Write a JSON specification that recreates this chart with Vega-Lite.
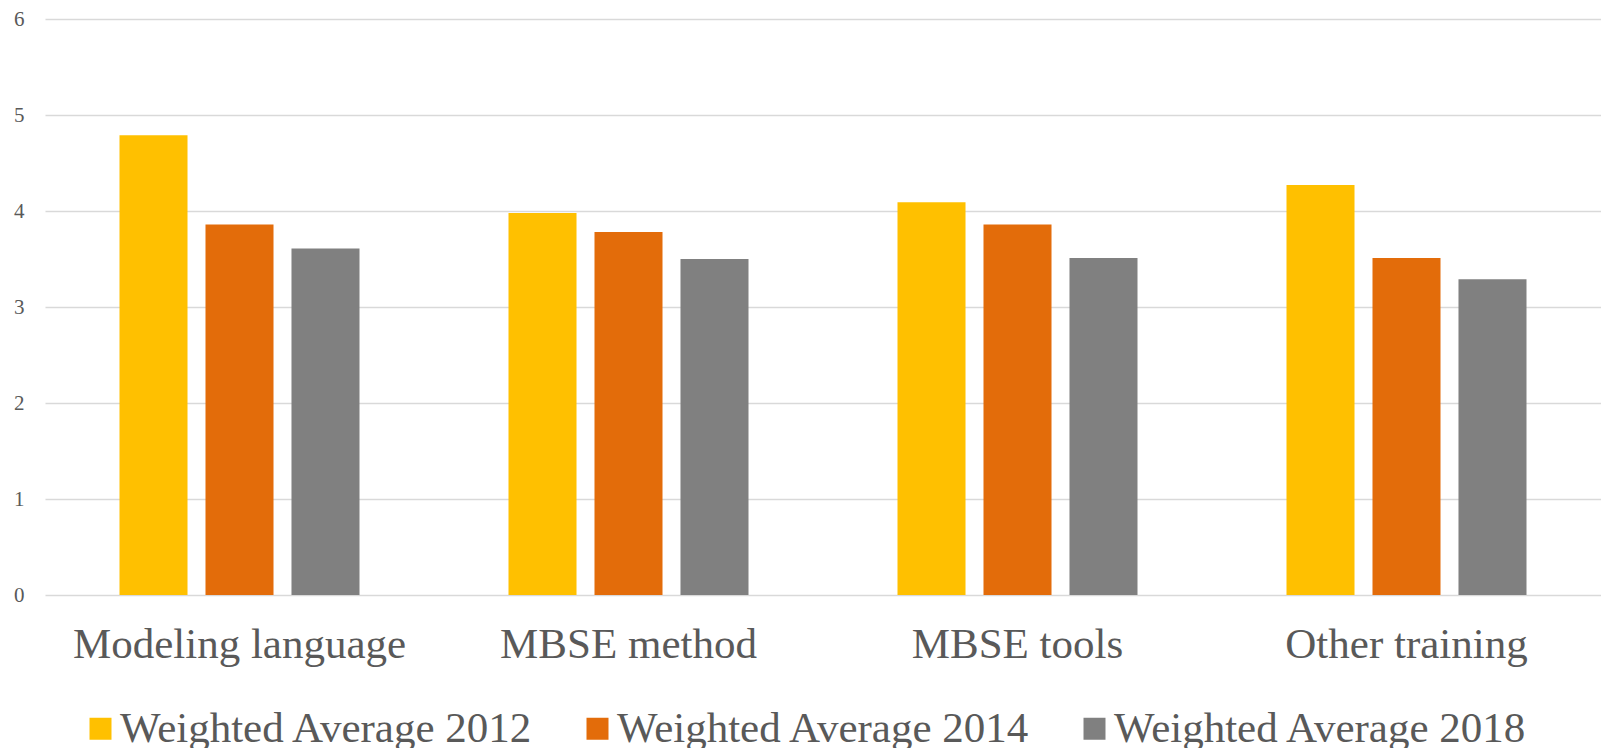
{
  "$schema": "https://vega.github.io/schema/vega-lite/v6.json",
  "width": 1556,
  "height": 576,
  "autosize": {"type": "none"},
  "padding": {"left": 45, "top": 19, "right": 0, "bottom": 153},
  "background": "white",
  "config": {"view": {"stroke": null}, "font": "Liberation Serif"},
  "data": {
    "values": [
      {"category": "Modeling language", "series": "Weighted Average 2012", "value": 4.79},
      {"category": "Modeling language", "series": "Weighted Average 2014", "value": 3.86},
      {"category": "Modeling language", "series": "Weighted Average 2018", "value": 3.61},
      {"category": "MBSE method", "series": "Weighted Average 2012", "value": 3.98},
      {"category": "MBSE method", "series": "Weighted Average 2014", "value": 3.78},
      {"category": "MBSE method", "series": "Weighted Average 2018", "value": 3.5},
      {"category": "MBSE tools", "series": "Weighted Average 2012", "value": 4.09},
      {"category": "MBSE tools", "series": "Weighted Average 2014", "value": 3.86},
      {"category": "MBSE tools", "series": "Weighted Average 2018", "value": 3.51},
      {"category": "Other training", "series": "Weighted Average 2012", "value": 4.27},
      {"category": "Other training", "series": "Weighted Average 2014", "value": 3.51},
      {"category": "Other training", "series": "Weighted Average 2018", "value": 3.29}
    ]
  },
  "mark": {"type": "bar"},
  "encoding": {
    "x": {
      "field": "category",
      "type": "nominal",
      "sort": ["Modeling language", "MBSE method", "MBSE tools", "Other training"],
      "scale": {"paddingInner": 0.383, "paddingOuter": 0.1915},
      "axis": {
        "title": null,
        "labelAngle": 0,
        "labelFontSize": 43,
        "labelColor": "#595959",
        "labelPadding": 28,
        "labelLimit": 0,
        "ticks": false,
        "domain": false
      }
    },
    "xOffset": {
      "field": "series",
      "type": "nominal",
      "sort": ["Weighted Average 2012", "Weighted Average 2014", "Weighted Average 2018"],
      "scale": {"paddingInner": 0.209, "paddingOuter": 0}
    },
    "y": {
      "field": "value",
      "type": "quantitative",
      "scale": {"domain": [0, 6], "nice": false},
      "axis": {
        "title": null,
        "values": [0, 1, 2, 3, 4, 5, 6],
        "grid": true,
        "gridColor": "#d9d9d9",
        "gridWidth": 1.5,
        "domain": false,
        "ticks": false,
        "labelPadding": 21,
        "labelFontSize": 21,
        "labelColor": "#595959"
      }
    },
    "color": {
      "field": "series",
      "type": "nominal",
      "scale": {
        "domain": ["Weighted Average 2012", "Weighted Average 2014", "Weighted Average 2018"],
        "range": ["#FFC000", "#E36C0A", "#808080"]
      },
      "legend": {
        "title": null,
        "orient": "none",
        "legendX": 34,
        "legendY": 688,
        "direction": "horizontal",
        "symbolType": "square",
        "symbolSize": 484,
        "symbolStrokeWidth": 0,
        "labelFontSize": 43,
        "labelColor": "#595959",
        "labelOffset": -2,
        "labelLimit": 0,
        "columnPadding": 42
      }
    }
  }
}
